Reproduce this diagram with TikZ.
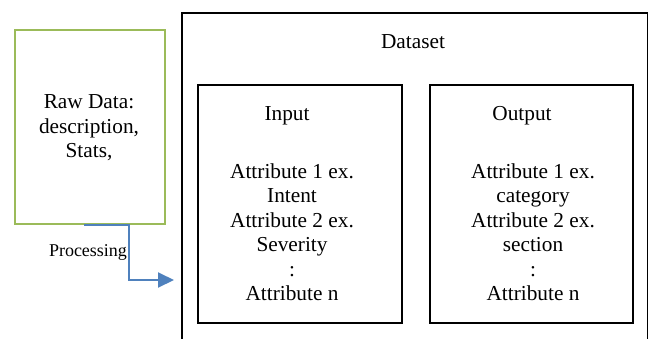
\documentclass[tikz,border=0pt]{standalone}
\usepackage{fontspec}
\setmainfont{Liberation Serif}
\usetikzlibrary{arrows.meta}
\definecolor{boxgreen}{HTML}{9BBB59}
\definecolor{arrowblue}{HTML}{4F81BD}
\begin{document}
\begin{tikzpicture}[x=1pt,y=-1pt,
  txt/.style={font=\fontsize{21.3}{24.5}\selectfont, align=center, inner sep=0pt},
  frame/.style={draw=black, line width=2pt, inner sep=0pt},
]
\useasboundingbox (0,0) rectangle (648,338);
\clip (0,0) rectangle (648,338);
% outer dataset frame (cut off at bottom)
\node[frame, minimum width=466pt, minimum height=360pt, anchor=north west] (dataset) at (181,12) {};
\node[txt] (dstitle) at (413,42) {Dataset};
% input / output boxes
\node[frame, minimum width=204pt, minimum height=238pt, anchor=north west] (input) at (197,84) {};
\node[frame, minimum width=203pt, minimum height=238pt, anchor=north west] (output) at (429,84) {};
\node[txt] (intitle) at (287,116) {Input};
\node[txt] (outtitle) at (522,116) {Output};
\node[txt] (inattr) at (292,232) {Attribute 1 ex.\\Intent\\Attribute 2 ex.\\Severity\\:\\Attribute n};
\node[txt] (outattr) at (533,232) {Attribute 1 ex.\\category\\Attribute 2 ex.\\section\\:\\Attribute n};
% raw data box
\node[draw=boxgreen, line width=2pt, minimum width=150pt, minimum height=194pt, anchor=north west, inner sep=0pt] (raw) at (14,29) {};
\node[txt] (rawtxt) at (89,128) {Raw Data:\\description,\\Stats,};
% processing arrow
\coordinate (tip) at (174,280);
\draw[arrowblue, line width=2pt, -{Triangle[length=16pt,width=15pt]}] ([xshift=-6pt]raw.south) -- ++(45,0) |- (tip);
\node[font=\fontsize{18}{20}\selectfont, inner sep=0pt] (proc) at (88,252) {Processing};
\end{tikzpicture}
\end{document}
